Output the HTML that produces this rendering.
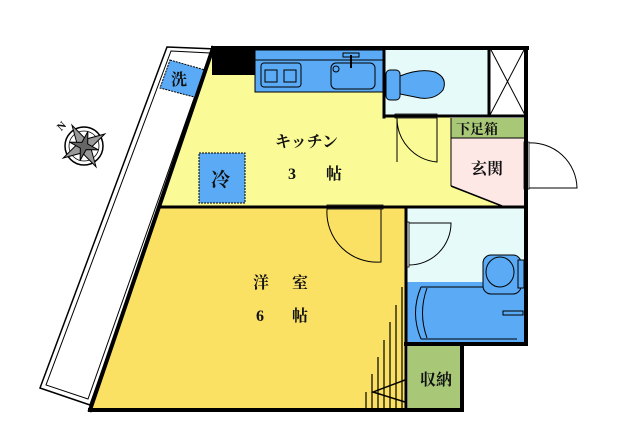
<!DOCTYPE html>
<html><head><meta charset="utf-8"><style>
html,body{margin:0;padding:0;background:#fff;width:640px;height:447px;overflow:hidden}
svg{display:block}
text{font-family:"Liberation Serif","Noto Serif CJK SC",serif;font-weight:bold;fill:#111}
</style></head><body>
<svg width="640" height="447" viewBox="0 0 640 447" xmlns="http://www.w3.org/2000/svg">
<!-- balcony -->
<polygon points="167,47 216,49 90,405 40,388" fill="#fff" stroke="#000" stroke-width="1.5"/>
<polygon points="171,51 210,53 88,399 46,385" fill="none" stroke="#000" stroke-width="1"/>
<polygon points="170,60 212,72 198,98 160,88" fill="#5aaaf5" stroke="#000" stroke-width="1" stroke-dasharray="2,1"/>
<text x="171" y="85" font-size="16" font-weight="normal" font-family="Noto Sans CJK JP,sans-serif">洗</text>
<!-- kitchen -->
<polygon points="212,50 385,50 385,117 451,117 451,186 500,206 160,206" fill="#fafa96"/>
<rect x="212" y="47" width="43" height="28" fill="#000"/>
<rect x="255" y="50" width="128" height="42" fill="#5aaaf5" stroke="#000" stroke-width="1"/>
<line x1="255" y1="60" x2="383" y2="60" stroke="#000"/>
<rect x="261" y="63" width="40" height="24" rx="3" fill="none" stroke="#000"/>
<rect x="265" y="70" width="12" height="12" fill="none" stroke="#000"/><rect x="284" y="70" width="12" height="12" fill="none" stroke="#000"/>
<rect x="331" y="63" width="44" height="26" rx="5" fill="none" stroke="#000"/>
<circle cx="336" cy="69" r="3" fill="none" stroke="#000"/>
<line x1="351" y1="55" x2="351" y2="68" stroke="#000" stroke-width="2"/>
<rect x="343" y="53" width="16" height="4" fill="none" stroke="#000"/>
<!-- fridge -->
<rect x="199" y="153" width="46" height="50" fill="#5aaaf5" stroke="#000" stroke-width="1" stroke-dasharray="2,1"/>
<text x="211" y="186" font-size="19" font-weight="normal" font-family="Noto Sans CJK JP,sans-serif">冷</text>
<text x="275" y="147" font-size="16">キッチン</text>
<text x="288" y="179" font-size="16">3</text><text x="326" y="179" font-size="16">帖</text>
<!-- toilet -->
<rect x="385" y="50" width="104" height="66" fill="#e6fafa"/>
<rect x="386" y="70" width="14" height="30" rx="4" fill="#5aaaf5" stroke="#000"/>
<path d="M400 76 Q420 68 435 72 Q448 78 443 90 Q435 100 420 98 Q410 96 400 94 Z" fill="#5aaaf5" stroke="#000"/>
<rect x="490" y="48" width="35" height="67" fill="#fff" stroke="#000"/>
<line x1="490" y1="48" x2="525" y2="115" stroke="#000"/><line x1="525" y1="48" x2="490" y2="115" stroke="#000"/>
<!-- genkan -->
<rect x="451" y="118" width="74" height="20" fill="#a8c878"/>
<text x="456" y="134" font-size="14">下足箱</text>
<polygon points="451,138 525,138 525,206 502,206 451,186" fill="#fde8e6"/>
<line x1="451" y1="186" x2="502" y2="206" stroke="#000" stroke-width="1.5"/>
<line x1="451" y1="138" x2="525" y2="138" stroke="#000"/>
<line x1="451" y1="118" x2="451" y2="186" stroke="#000"/>
<text x="471" y="174" font-size="16">玄関</text>
<!-- western room -->
<polygon points="160,207 405,207 405,410 90,410" fill="#fae164"/>
<text x="253" y="288" font-size="16">洋</text><text x="292" y="288" font-size="16">室</text>
<text x="256" y="321" font-size="16">6</text><text x="292" y="321" font-size="16">帖</text>
<!-- bath -->
<rect x="406" y="208" width="119" height="135" fill="#e6fafa"/>
<rect x="406" y="282" width="119" height="60" fill="#5aaaf5"/>
<path d="M421 287 L517 287 M421 339 L517 339" stroke="#000"/>
<path d="M421 287 Q410 313 421 339" fill="none" stroke="#000"/>
<path d="M427 288 Q418 313 427 338" fill="none" stroke="#000"/>
<rect x="483" y="255" width="38" height="39" rx="8" fill="#5aaaf5" stroke="#000"/>
<ellipse cx="500" cy="272" rx="14" ry="15" fill="#5aaaf5" stroke="#000"/>
<rect x="518" y="260" width="6" height="28" fill="#5aaaf5" stroke="#000"/>
<rect x="503" y="311" width="20" height="4" fill="#5aaaf5" stroke="#000"/>
<!-- storage -->
<rect x="408" y="345" width="53" height="64" fill="#a8c878"/>
<text x="420" y="385" font-size="16">収納</text>
<!-- doors / arcs -->
<path d="M397 118 L397 162 M397 118 A44 44 0 0 0 437 162 L437 118" fill="none" stroke="#000"/>
<rect x="395" y="114" width="42" height="4" fill="#fff" stroke="#000" stroke-width="0.8"/>
<path d="M327 209 A50 50 0 0 0 381 262 L381 209" fill="none" stroke="#000"/>
<rect x="327" y="205" width="56" height="4" fill="#fff" stroke="#000" stroke-width="0.8"/>
<path d="M409 223 L451 223 A42 42 0 0 1 409 265" fill="none" stroke="#000"/>
<rect x="405" y="222" width="4" height="45" fill="#fff" stroke="#000" stroke-width="0.8"/>
<path d="M528 143 A46 46 0 0 1 577 188 L528 188" fill="none" stroke="#000"/>
<rect x="524" y="142" width="5" height="47" fill="#fff" stroke="#000" stroke-width="0.8"/>
<!-- closet folding doors -->
<g stroke="#000" stroke-width="1.2">
<line x1="402" y1="287" x2="402" y2="410"/><line x1="396" y1="305" x2="396" y2="410"/>
<line x1="390" y1="322" x2="390" y2="410"/><line x1="384" y1="340" x2="384" y2="410"/>
<line x1="378" y1="357" x2="378" y2="410"/><line x1="372" y1="374" x2="372" y2="410"/>
<line x1="366" y1="392" x2="366" y2="410"/>
<path d="M405 380 L373 392 L405 402" fill="none" stroke-width="1.5"/>
</g>
<rect x="405" y="355" width="3" height="48" fill="#fff"/>
<!-- walls -->
<g stroke="#000" fill="none" stroke-linecap="square">
<line x1="213" y1="48" x2="527" y2="48" stroke-width="4"/>
<line x1="526" y1="48" x2="526" y2="344" stroke-width="4"/>
<line x1="213" y1="48" x2="90" y2="410" stroke-width="4"/>
<line x1="90" y1="410" x2="462" y2="410" stroke-width="4"/>
<line x1="462" y1="344" x2="462" y2="410" stroke-width="4"/>
<line x1="406" y1="344" x2="526" y2="344" stroke-width="4"/>
<line x1="406" y1="207" x2="406" y2="410" stroke-width="3"/>
<line x1="160" y1="207" x2="526" y2="207" stroke-width="3"/>
<line x1="384" y1="48" x2="384" y2="117" stroke-width="3"/>
<line x1="384" y1="116" x2="526" y2="116" stroke-width="3"/>
<line x1="489" y1="48" x2="489" y2="116" stroke-width="3"/>
</g>
<!-- compass -->
<g transform="translate(84,146)">
<circle r="19" fill="#fff" stroke="#000" stroke-width="1.5"/>
<circle r="15" fill="none" stroke="#000" stroke-width="0.8"/>
<g transform="rotate(-30)">
<polygon points="0,-24 5,-5 24,0 5,5 0,24 -5,5 -24,0 -5,-5" fill="#999" stroke="#000"/>
<polygon points="0,-15 3,-3 15,0 3,3 0,15 -3,3 -15,0 -3,-3" fill="#666" stroke="#000" transform="rotate(45)"/>
</g>
<text x="-27" y="-17" font-size="11" transform="rotate(-45 -22 -21)" font-family="Liberation Sans,sans-serif">N</text>
</g>
</svg>
</body></html>
